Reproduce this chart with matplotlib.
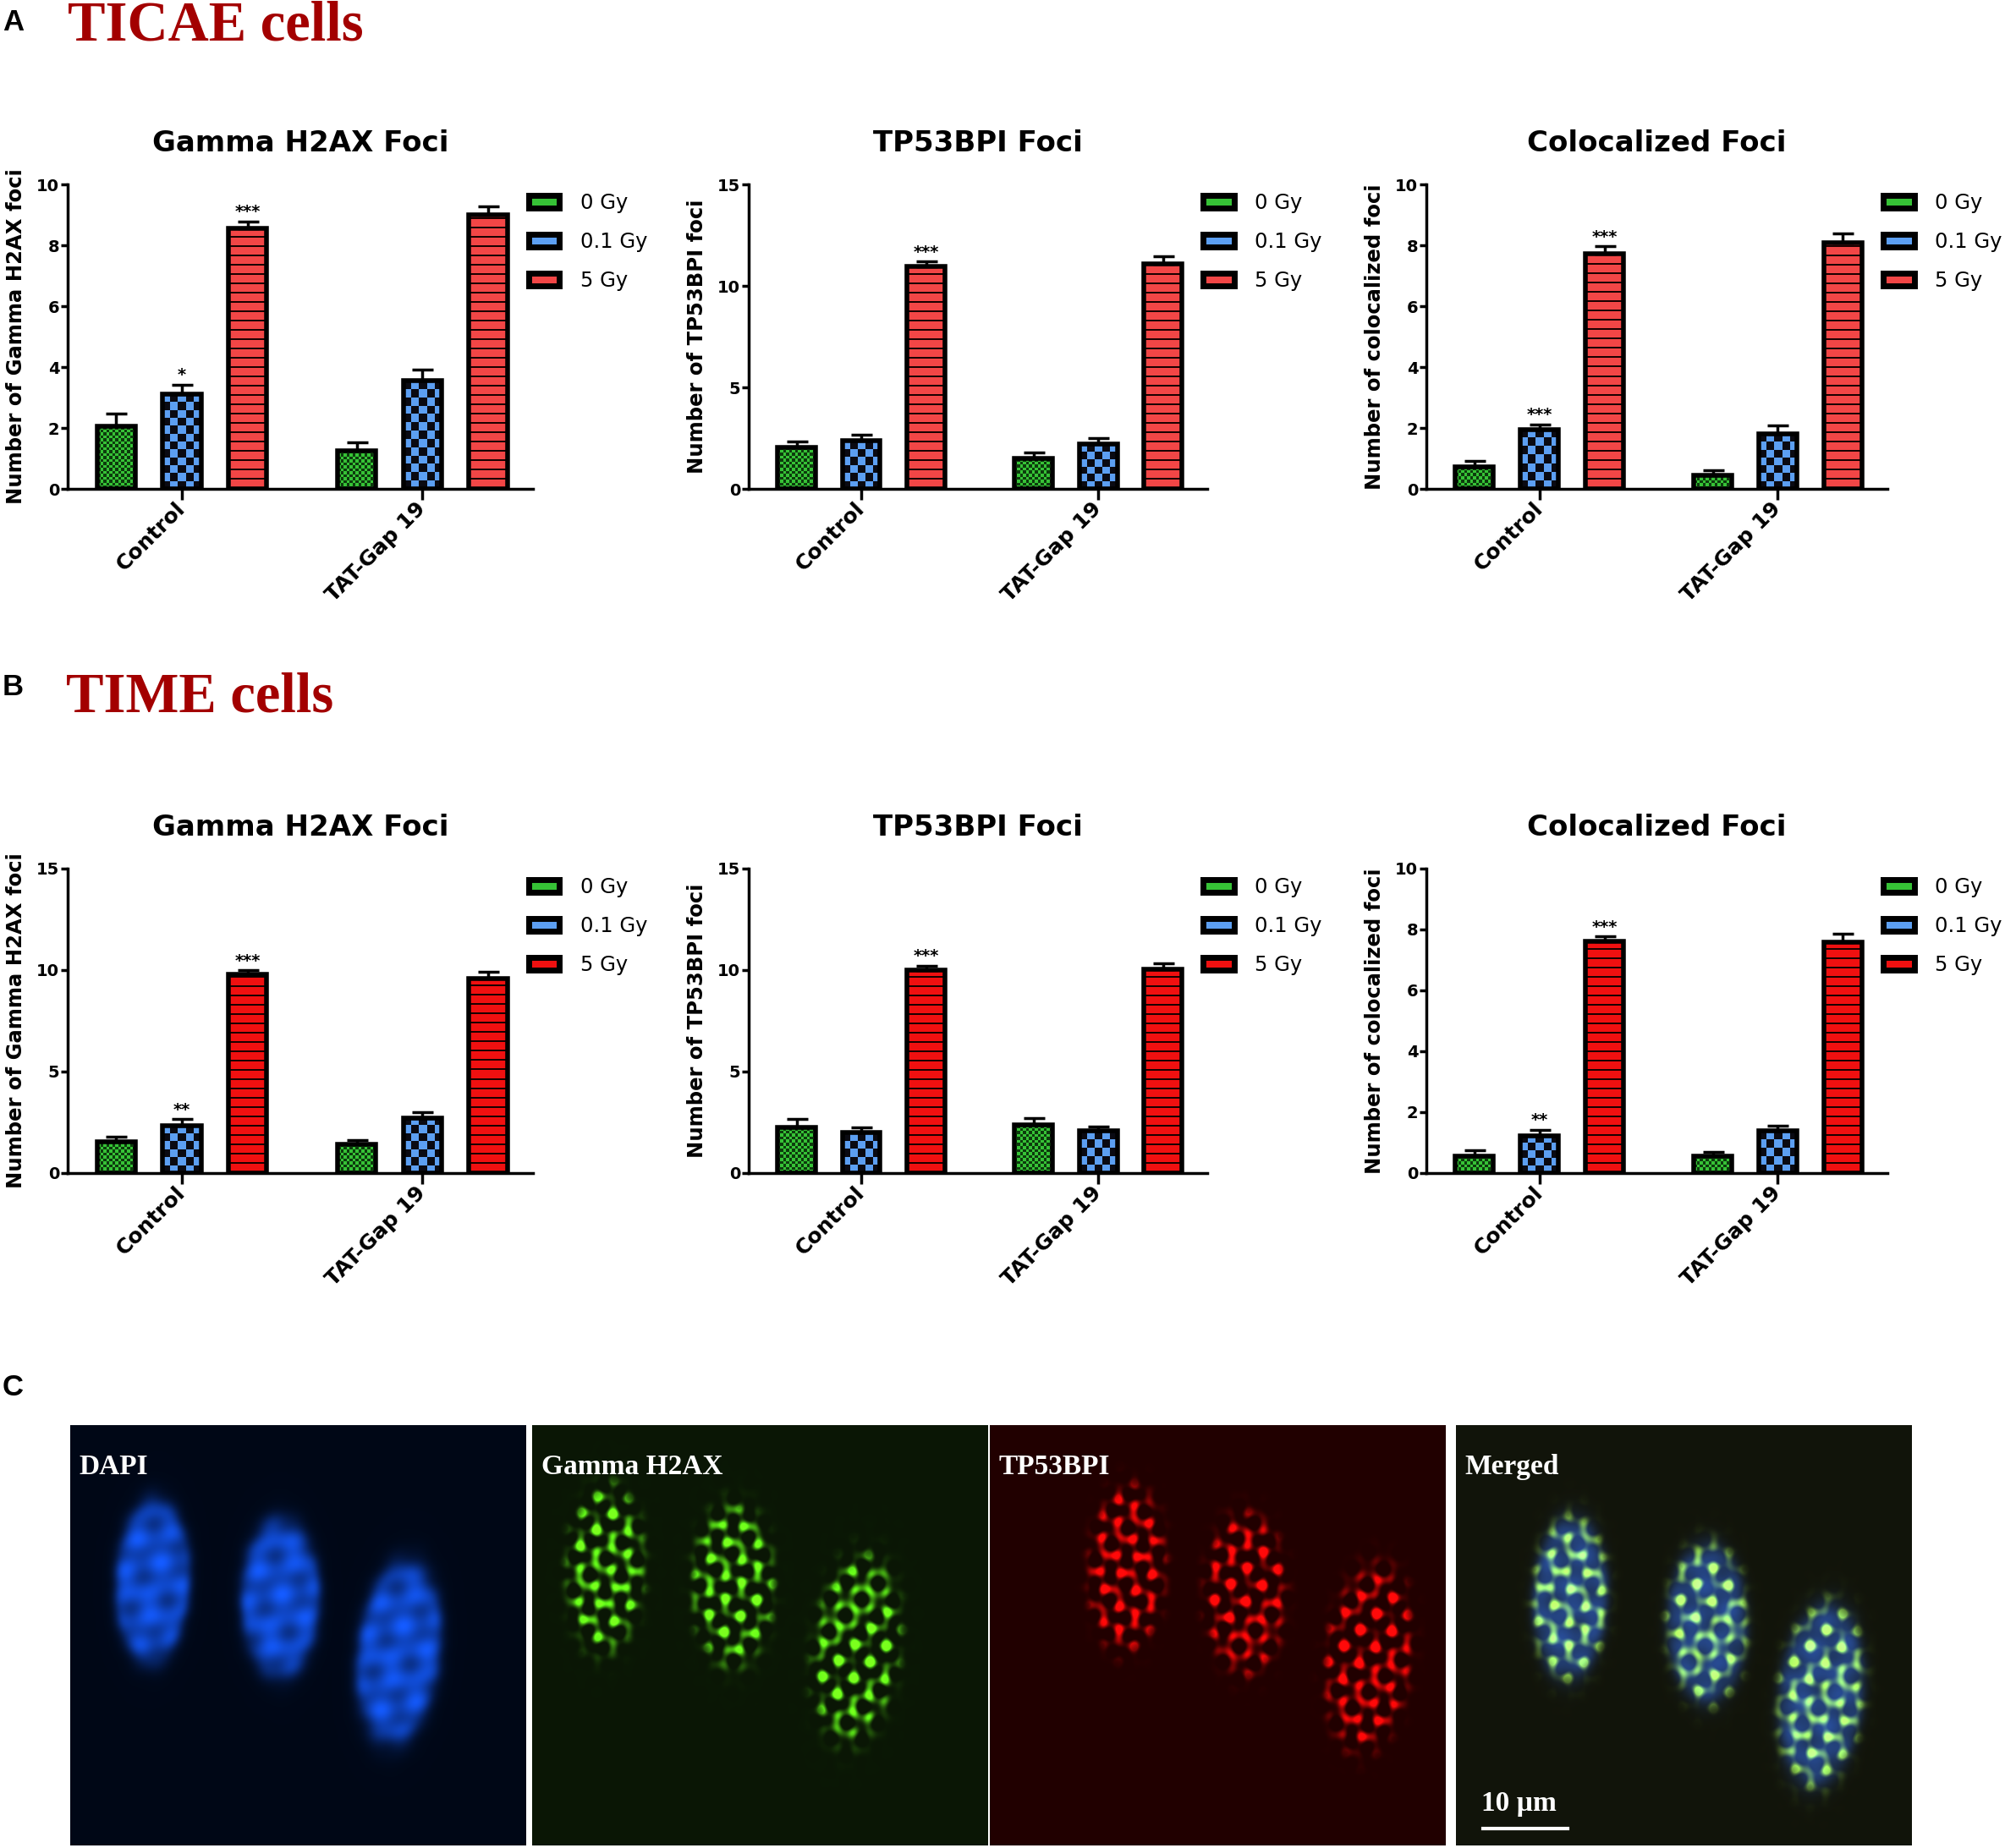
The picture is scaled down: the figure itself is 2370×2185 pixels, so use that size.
import numpy as np
import matplotlib
matplotlib.use('Agg')
import matplotlib.pyplot as plt
from matplotlib.colors import ListedColormap
from matplotlib.patches import Patch

W, H = 2370, 2185

groups = ['Control', 'TAT-Gap 19']
doses = ['0 Gy', '0.1 Gy', '5 Gy']

# TICAE cells (row A): mean and sem per group, per dose
ticae_h2ax_mean = [[2.05, 3.10, 8.55], [1.25, 3.55, 9.00]]
ticae_h2ax_sem = [[0.42, 0.32, 0.24], [0.27, 0.37, 0.27]]
ticae_h2ax_stars = ['', '*', '***']

ticae_53bp_mean = [[2.05, 2.37, 10.95], [1.50, 2.20, 11.07]]
ticae_53bp_sem = [[0.30, 0.30, 0.26], [0.29, 0.28, 0.38]]
ticae_53bp_stars = ['', '', '***']

ticae_coloc_mean = [[0.72, 1.95, 7.73], [0.45, 1.80, 8.07]]
ticae_coloc_sem = [[0.20, 0.17, 0.24], [0.16, 0.27, 0.31]]
ticae_coloc_stars = ['', '***', '***']

# TIME cells (row B)
time_h2ax_mean = [[1.55, 2.35, 9.78], [1.42, 2.72, 9.60]]
time_h2ax_sem = [[0.26, 0.32, 0.20], [0.21, 0.29, 0.32]]
time_h2ax_stars = ['', '**', '***']

time_53bp_mean = [[2.24, 2.00, 10.00], [2.36, 2.08, 10.03]]
time_53bp_sem = [[0.43, 0.27, 0.22], [0.34, 0.20, 0.29]]
time_53bp_stars = ['', '', '***']

time_coloc_mean = [[0.56, 1.23, 7.60], [0.56, 1.38, 7.57]]
time_coloc_sem = [[0.19, 0.20, 0.18], [0.13, 0.17, 0.30]]
time_coloc_stars = ['', '**', '***']

titles = ['Gamma H2AX Foci', 'TP53BPI Foci', 'Colocalized Foci']
ylabels = ['Number of Gamma H2AX foci', 'Number of TP53BPI foci', 'Number of colocalized foci']

# microscopy panel: nucleus centres (x, y from top), size, tilt per channel
image_labels = ['DAPI', 'Gamma H2AX', 'TP53BPI', 'Merged']
nuclei_x = [[0.18, 0.46, 0.72], [0.16, 0.44, 0.71], [0.30, 0.56, 0.83], [0.25, 0.55, 0.80]]
nuclei_y = [[0.37, 0.41, 0.54], [0.34, 0.38, 0.53], [0.34, 0.40, 0.55], [0.41, 0.47, 0.64]]
nuclei_w = [0.17, 0.18, 0.19]
nuclei_h = [0.40, 0.39, 0.45]
nuclei_tilt = [2, 0, 6]

fig = plt.figure(figsize=(W / 100, H / 100), dpi=100)

col_left = [80, 885, 1686]
col_width = [550, 542, 545]
row_top = [218, 1027]
row_h = 360

offsets = [-0.273, 0.0, 0.273]
bar_w = 0.16

green_cols = ['#0d3b0d', '#36c236']
blue_cols = ['#0a0a12', '#5c9ff2']


def texture(ax, rect, kind, cols, cell):
    x0, y0 = rect.get_x(), rect.get_y()
    x1, y1 = x0 + rect.get_width(), y0 + rect.get_height()
    (px0, py0), (px1, py1) = ax.transData.transform([(x0, y0), (x1, y1)])
    if kind == 'check':
        nx = max(1, int(round((px1 - px0) / cell)))
        ny = max(1, int(round((py1 - py0) / cell)))
        ii, jj = np.indices((ny, nx))
        arr = (ii + jj) % 2
    else:
        ny = max(1, int(round(py1 - py0)))
        arr = ((np.arange(ny) % cell) >= 2).astype(int)[:, None]
    im = ax.imshow(arr, extent=(x0, x1, y0, y1), origin='lower', cmap=ListedColormap(cols),
                   vmin=0, vmax=1, interpolation='nearest', aspect='auto', zorder=2)
    im.set_clip_path(rect)


def bar_panel(ax, means, sems, stars, ymax, step, title, ylabel, red):
    ax.set_xlim(-0.475, 1.46)
    ax.set_ylim(0, ymax)
    stripe_cols = ['#1a0000', red]
    for d in range(3):
        xs = [g + offsets[d] for g in range(2)]
        vals = [means[g][d] for g in range(2)]
        errs = [sems[g][d] for g in range(2)]
        bars = ax.bar(xs, vals, width=bar_w, facecolor='none', edgecolor='black',
                      linewidth=4, zorder=3)
        for b in bars:
            if d == 0:
                texture(ax, b, 'check', green_cols, 3.5)
            elif d == 1:
                texture(ax, b, 'check', blue_cols, 9.5)
            else:
                texture(ax, b, 'stripe', stripe_cols, 11)
        ax.errorbar(xs, vals, yerr=[np.zeros(2), errs], fmt='none', ecolor='black',
                    elinewidth=2.5, capsize=9, capthick=2.5, zorder=4)
        if stars[d]:
            ax.annotate(stars[d], (xs[0], vals[0] + errs[0]), xytext=(0, 1),
                        textcoords='offset points', ha='center', va='bottom',
                        fontsize=14, fontweight='bold')
    ax.set_xlim(-0.475, 1.46)
    ax.set_ylim(0, ymax)
    ax.set_yticks(np.arange(0, ymax + 0.1, step))
    ax.set_xticks([0, 1], labels=groups, rotation=45, ha='right', va='center',
                  rotation_mode='anchor', fontweight='bold', fontsize=18)
    for lab in ax.get_yticklabels():
        lab.set_fontweight('bold')
    ax.tick_params(axis='y', labelsize=14, length=6, width=2.5, pad=1)
    ax.tick_params(axis='x', length=9, width=2.5, pad=5)
    for s in ['top', 'right']:
        ax.spines[s].set_visible(False)
    for s in ['left', 'bottom']:
        ax.spines[s].set_linewidth(2.5)
    ax.set_title(title, fontsize=24.5, fontweight='bold', pad=28)
    ax.set_ylabel(ylabel, fontsize=17.5, fontweight='bold', labelpad=9)
    handles = [Patch(facecolor=green_cols[1], edgecolor='black', linewidth=5),
               Patch(facecolor=blue_cols[1], edgecolor='black', linewidth=5),
               Patch(facecolor=red, edgecolor='black', linewidth=5)]
    ax.legend(handles, doses, loc='upper left', bbox_to_anchor=(0.982, 0.985), frameon=False,
              fontsize=17.5, handlelength=1.5, handleheight=0.6, handletextpad=1.0,
              labelspacing=0.9, borderaxespad=0.2, borderpad=0)


rows = [
    [(ticae_h2ax_mean, ticae_h2ax_sem, ticae_h2ax_stars, 10, 2),
     (ticae_53bp_mean, ticae_53bp_sem, ticae_53bp_stars, 15, 5),
     (ticae_coloc_mean, ticae_coloc_sem, ticae_coloc_stars, 10, 2)],
    [(time_h2ax_mean, time_h2ax_sem, time_h2ax_stars, 15, 5),
     (time_53bp_mean, time_53bp_sem, time_53bp_stars, 15, 5),
     (time_coloc_mean, time_coloc_sem, time_coloc_stars, 10, 2)],
]
row_red = ['#f24646', '#f01010']

for r in range(2):
    for c in range(3):
        ax = fig.add_axes([col_left[c] / W, 1 - (row_top[r] + row_h) / H,
                           col_width[c] / W, row_h / H])
        m, s, st, ymax, step = rows[r][c]
        bar_panel(ax, m, s, st, ymax, step, titles[c], ylabels[c], row_red[r])

# panel letters and headings
fig.text(3 / W, 1 - 27 / H, 'A', family='Liberation Sans', fontweight='bold', fontsize=25,
         va='center', ha='left')
fig.text(3 / W, 1 - 813 / H, 'B', family='Liberation Sans', fontweight='bold', fontsize=25,
         va='center', ha='left')
fig.text(3 / W, 1 - 1640 / H, 'C', family='Liberation Sans', fontweight='bold', fontsize=25,
         va='center', ha='left')
fig.text(80 / W, 1 - 48 / H, 'TICAE cells', family='Liberation Serif', fontweight='bold',
         fontsize=48, color='#a30000', va='baseline', ha='left')
fig.text(78 / W, 1 - 842 / H, 'TIME cells', family='Liberation Serif', fontweight='bold',
         fontsize=48, color='#a30000', va='baseline', ha='left')

# panel C: synthetic fluorescence images
img_left = [83, 629, 1170, 1721]
img_w = 539
img_top, img_bot = 1685, 2182
bg_cols = [(0.0, 0.03, 0.09), (0.04, 0.09, 0.02), (0.13, 0.0, 0.0), (0.07, 0.08, 0.04)]
ny_px, nx_px = 497, 539
yy, xx = np.mgrid[0:ny_px, 0:nx_px].astype(float)
u = xx / nx_px
v = yy / ny_px
# irregular spot texture: a few plane waves with unrelated directions and wavelengths
waves = np.zeros_like(u)
for ang, lam, ph in zip([0, 47, 95, 138], [19, 24, 21, 27], [0.0, 1.1, 2.3, 0.6]):
    a = np.deg2rad(ang)
    waves += np.cos(2 * np.pi / lam * (xx * np.cos(a) + yy * np.sin(a)) + ph)
waves /= 4
foci = np.clip((waves + 0.2) / 0.8, 0, 1) ** 1.6
chrom = np.zeros_like(u)
for ang, lam, ph in zip([15, 80, 140], [37, 31, 43], [0.4, 1.7, 2.9]):
    a = np.deg2rad(ang)
    chrom += np.cos(2 * np.pi / lam * (xx * np.cos(a) + yy * np.sin(a)) + ph)
chrom = 0.5 + chrom / 6

for k in range(4):
    mask = np.zeros_like(u)
    for n in range(3):
        t = np.deg2rad(nuclei_tilt[n])
        du = (u - nuclei_x[k][n]) * nx_px / ny_px
        dv = v - nuclei_y[k][n]
        a = (du * np.cos(t) + dv * np.sin(t)) / (nuclei_w[n] * nx_px / ny_px / 2)
        b = (-du * np.sin(t) + dv * np.cos(t)) / (nuclei_h[n] / 2)
        rr = np.sqrt(a ** 2 + b ** 2)
        mask = np.maximum(mask, 1 / (1 + np.exp((rr - 0.95) * 14)))
    img = np.ones((ny_px, nx_px, 3)) * np.array(bg_cols[k])
    m3 = mask[..., None]
    if k == 0:
        img += m3 * (0.5 + 0.5 * chrom)[..., None] * np.array([0.08, 0.33, 0.92])
    elif k == 1:
        img += m3 * foci[..., None] * np.array([0.45, 1.15, 0.1])
    elif k == 2:
        img += m3 * foci[..., None] * np.array([1.15, 0.04, 0.04])
    else:
        img += m3 * (0.45 + 0.3 * chrom)[..., None] * np.array([0.12, 0.3, 0.75])
        img += m3 * foci[..., None] * np.array([0.65, 0.95, 0.05])
    img = np.clip(img, 0, 1)
    iax = fig.add_axes([img_left[k] / W, 1 - img_bot / H, img_w / W, (img_bot - img_top) / H])
    iax.imshow(img, extent=(0, 1, 0, 1), aspect='auto', interpolation='bilinear')
    iax.set_xlim(0, 1)
    iax.set_ylim(0, 1)
    iax.axis('off')
    iax.text(0.02, 0.90, image_labels[k], transform=iax.transAxes, color='white',
             family='Liberation Serif', fontweight='bold', fontsize=24, va='center', ha='left')
    if k == 3:
        iax.text(0.055, 0.10, '10 µm', transform=iax.transAxes, color='white',
                 family='Liberation Serif', fontweight='bold', fontsize=24, va='center', ha='left')
        iax.plot([0.06, 0.245], [0.04, 0.04], color='white', lw=3, transform=iax.transAxes)

fig.savefig('out.png', dpi=100)
